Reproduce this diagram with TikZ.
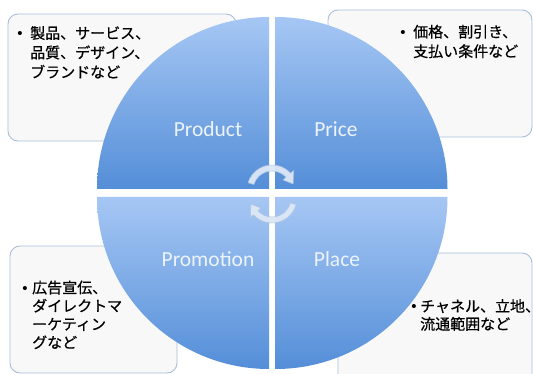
\documentclass[tikz,border=0pt]{standalone}
\usepackage{fontspec}
\setmainfont{Carlito}
\newfontfamily\jpfont[FakeBold=0.5]{Noto Sans CJK JP}
\newfontfamily\bulfont{Liberation Sans}
\definecolor{quadtop}{RGB}{166,199,244}
\definecolor{quadbot}{RGB}{84,142,216}
\definecolor{boxfill}{RGB}{248,248,248}
\definecolor{boxline}{RGB}{168,190,218}
\definecolor{labeltext}{RGB}{236,243,251}
\definecolor{cyclefill}{RGB}{221,232,246}
\definecolor{cycleline}{RGB}{176,197,224}
\begin{document}
\begin{tikzpicture}[x=1pt,y=-1pt,
  notebox/.style={draw=boxline, fill=boxfill, line width=0.9pt, rounded corners=10pt},
  quadrant/.style={top color=quadtop, bottom color=quadbot},
  qlabel/.style={text=labeltext, font=\fontsize{21.5}{24}\selectfont, inner sep=0pt, anchor=base},
  bulletmark/.style={font=\bulfont\fontsize{15}{19.5}\selectfont, inner sep=0pt, anchor=base},
  notetext/.style={font=\jpfont\fontsize{15}{19.5}\selectfont, inner sep=0pt, anchor=base west},
  cyclearr/.style={fill=cyclefill, draw=cycleline, line width=0.6pt, line join=round, fill opacity=0.95}
]
\useasboundingbox (0,0) rectangle (533,374);
\clip (0,0) rectangle (533,374);

% note boxes behind the circle
\draw[notebox] (8,14) rectangle (236,141);
\draw[notebox] (328,10) rectangle (532,137);
\draw[notebox] (10,246) rectangle (177,373);
\draw[notebox] (338,253) rectangle (532,390);

% four quadrants of the split disc
\shade[quadrant] (269,189) -- (97,189) arc[start angle=180, end angle=270, radius=172] -- cycle;
\shade[quadrant] (275.5,189) -- (275.5,17) arc[start angle=270, end angle=360, radius=172] -- cycle;
\shade[quadrant] (269,197) -- (269,369) arc[start angle=90, end angle=180, radius=172] -- cycle;
\shade[quadrant] (275.5,197) -- (447.5,197) arc[start angle=0, end angle=90, radius=172] -- cycle;

% quadrant titles
\node[qlabel] (product) at (208,137) {Product};
\node[qlabel] (price) at (336,137) {Price};
\node[qlabel] (promotion) at (208,267) {Promotion};
\node[qlabel] (place) at (337,266) {Place};

% block-arc cycle arrows in the middle
\begin{scope}[shift={(272,190)}]
  \path[cyclearr] (-163:25) arc[start angle=-163, end angle=-42, radius=25]
    -- (-42:29) -- (-16:22) -- (-42:15) -- (-42:19)
    arc[start angle=-42, end angle=-163, radius=19] -- cycle;
\end{scope}
\begin{scope}[shift={(272,198)}]
  \path[cyclearr] (15:25) arc[start angle=15, end angle=138, radius=25]
    -- (138:29) -- (164:22) -- (138:15) -- (138:19)
    arc[start angle=138, end angle=15, radius=19] -- cycle;
\end{scope}

% notes
\node[bulletmark] (b1) at (20,38.7) {•};
\node[notetext] (n1) at (30,38.7) {\begin{tabular}[t]{@{}l@{}}製品、サービス、\\品質、デザイン、\\ブランドなど\end{tabular}};
\node[bulletmark] (b2) at (403,37.4) {•};
\node[notetext] (n2) at (413,37.4) {\begin{tabular}[t]{@{}l@{}}価格、割引き、\\支払い条件など\end{tabular}};
\node[bulletmark] (b3) at (25,293.2) {•};
\node[notetext] (n3) at (32,293.2) {\fontsize{15}{18.3}\selectfont\begin{tabular}[t]{@{}l@{}}広告宣伝、\\ダイレクトマ\\ーケティン\\グなど\end{tabular}};
\node[bulletmark] (b4) at (414,311.7) {•};
\node[notetext] (n4) at (420,311.7) {\fontsize{15}{17.5}\selectfont\begin{tabular}[t]{@{}l@{}}チャネル、立地、\\流通範囲など\end{tabular}};
\end{tikzpicture}
\end{document}
